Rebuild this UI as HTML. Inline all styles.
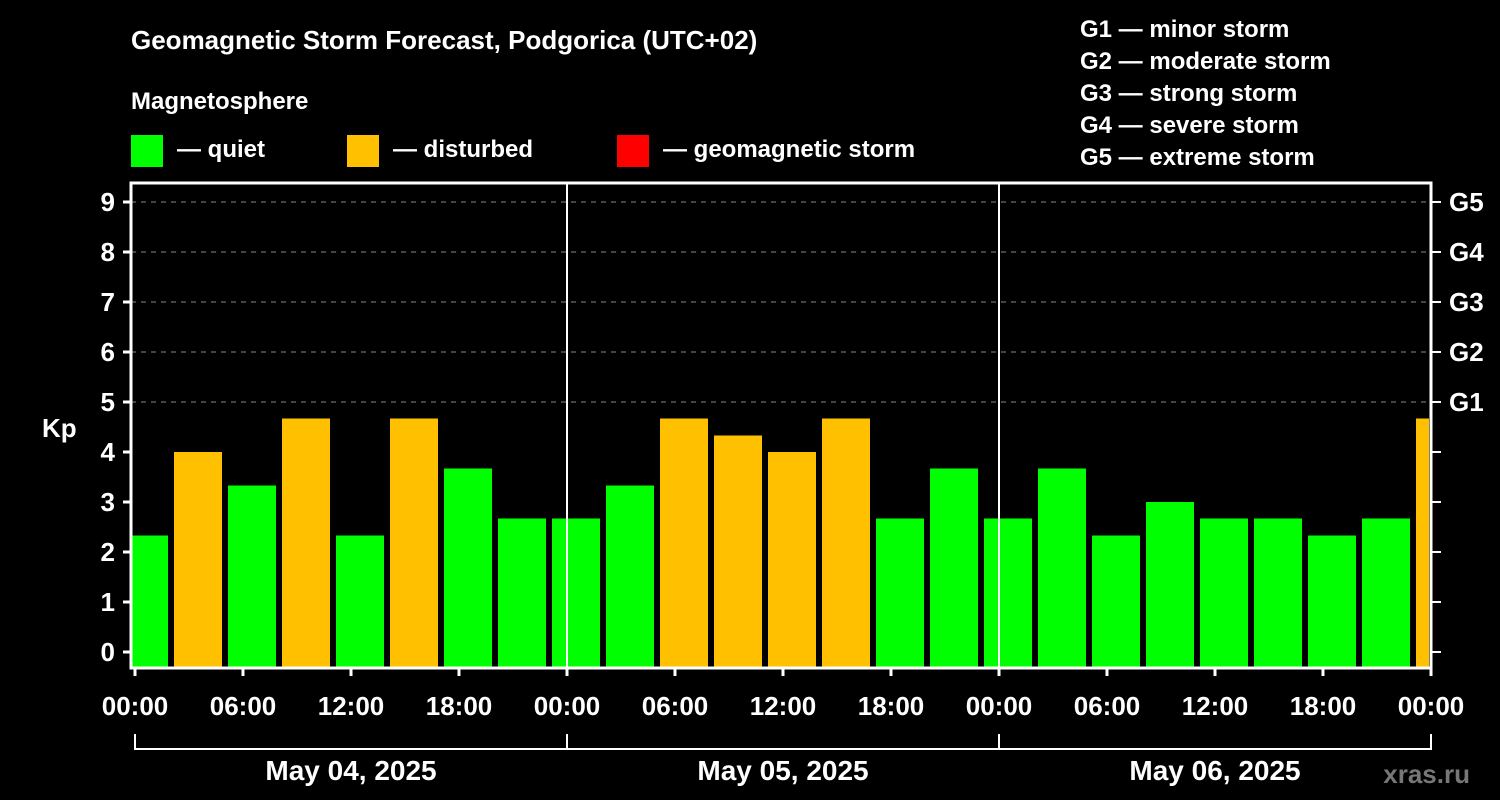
<!DOCTYPE html>
<html><head><meta charset="utf-8"><style>
body{margin:0;background:#000;}
svg{display:block;font-family:"Liberation Sans",Arial,sans-serif;font-weight:bold;}
</style></head><body>
<svg id="c" width="1500" height="800" viewBox="0 0 1500 800">
<rect width="1500" height="800" fill="#000"/>
<text x="131" y="49" fill="#fff" font-size="26">Geomagnetic Storm Forecast, Podgorica (UTC+02)</text>
<text x="131" y="109" fill="#fff" font-size="24">Magnetosphere</text>
<rect x="131" y="135" width="32" height="32" fill="#00ff00"/>
<text x="177" y="157" fill="#fff" font-size="24">— quiet</text>
<rect x="347" y="135" width="32" height="32" fill="#ffc000"/>
<text x="393" y="157" fill="#fff" font-size="24">— disturbed</text>
<rect x="617" y="135" width="32" height="32" fill="#ff0000"/>
<text x="663" y="157" fill="#fff" font-size="24">— geomagnetic storm</text>
<g fill="#fff" font-size="24">
<text x="1080" y="37">G1 — minor storm</text>
<text x="1080" y="69">G2 — moderate storm</text>
<text x="1080" y="101">G3 — strong storm</text>
<text x="1080" y="133">G4 — severe storm</text>
<text x="1080" y="165">G5 — extreme storm</text>
</g>
<text x="42" y="437" fill="#fff" font-size="26">Kp</text>
<text x="1470" y="783" fill="#777" font-size="26" text-anchor="end">xras.ru</text>
<g id="plot"></g>
</svg>
<script>
const kpValues=[2.33,4.0,3.33,4.67,2.33,4.67,3.67,2.67, 2.67,3.33,4.67,4.33,4.0,4.67,2.67,3.67, 2.67,3.67,2.33,3.0,2.67,2.67,2.33,2.67,4.67];
const yTicks=[0,1,2,3,4,5,6,7,8,9];
const gLabels=["G1","G2","G3","G4","G5"];
const gLevels=[5,6,7,8,9];
const xTickLabels=["00:00","06:00","12:00","18:00","00:00","06:00","12:00","18:00","00:00","06:00","12:00","18:00","00:00"];
const dateLabels=["May 04, 2025","May 05, 2025","May 06, 2025"];
const NS="http://www.w3.org/2000/svg";
const g=document.getElementById('plot');
const L=131,R=1431,T=183,B=668;
const y=k=>652-50*k;
const x=h=>135+18*h;
function mk(tag,a,parent){const e=document.createElementNS(NS,tag);for(const k in a)e.setAttribute(k,a[k]);(parent||g).appendChild(e);return e;}
// grid
yTicks.forEach(k=>{
  if(k>=5){const e=mk('line',{x1:L,x2:R,y1:y(k),y2:y(k),stroke:'#888','stroke-dasharray':'5,5','stroke-width':1});
  
  }
});
// bars
const clip=mk('clipPath',{id:'pc'});mk('rect',{x:L+1,y:T,width:R-L-3,height:B-T},clip);
const bg=mk('g',{'clip-path':'url(#pc)'});
kpValues.forEach((v,i)=>{
  const c=x(3*i)+9;
  const r=mk('rect',{x:c-24,y:y(v),width:48,height:B-y(v),fill:v>=5?'#ff0000':(v>=4?'#ffc000':'#00ff00')},bg);
  
  
});
// day separators
[1,2].forEach(d=>{const e=mk('line',{x1:x(24*d),x2:x(24*d),y1:T,y2:B,stroke:'#fff','stroke-width':2});

});
// frame
const f=mk('rect',{x:L,y:T,width:R-L,height:B-T,fill:'none',stroke:'#fff','stroke-width':3});


// y ticks
yTicks.forEach(k=>{
  mk('line',{x1:L-8,x2:L,y1:y(k),y2:y(k),stroke:'#fff','stroke-width':3});
  mk('line',{x1:R,x2:R+10,y1:y(k),y2:y(k),stroke:'#fff','stroke-width':2});
  const t=mk('text',{x:115,y:y(k)+9,fill:'#fff','font-size':26,'text-anchor':'end'});t.textContent=k;
  
  
});
gLabels.forEach((s,i)=>{const t=mk('text',{x:1449,y:y(gLevels[i])+9,fill:'#fff','font-size':26});t.textContent=s;

});
// x ticks
xTickLabels.forEach((s,i)=>{
  const xx=x(6*i);
  mk('line',{x1:xx,x2:xx,y1:B,y2:B+8,stroke:'#fff','stroke-width':3});
  const t=mk('text',{x:xx,y:715,fill:'#fff','font-size':26,'text-anchor':'middle'});t.textContent=s;
  
  
});
// date bracket
mk('path',{d:`M${x(0)} 734 V749 H${x(72)} V734 M${x(24)} 734 V749 M${x(48)} 734 V749`,fill:'none',stroke:'#fff','stroke-width':2});
dateLabels.forEach((s,i)=>{const t=mk('text',{x:x(24*i+12),y:780,fill:'#fff','font-size':28,'text-anchor':'middle'});t.textContent=s;

});
</script>
</body></html>
